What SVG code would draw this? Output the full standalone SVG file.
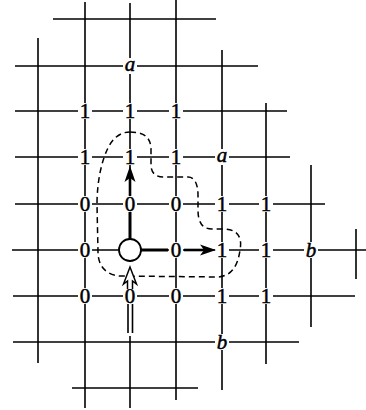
<svg xmlns="http://www.w3.org/2000/svg" width="366" height="410" viewBox="0 0 366 410">
<style>
.g{stroke:#000;stroke-width:1.6;fill:none;stroke-linecap:butt}
.t{font-family:"Liberation Serif","Times New Roman",serif;font-size:21px;fill:#000;text-anchor:middle;stroke:#000;stroke-width:0.5}
.i{font-style:italic;font-size:21px}
.bg{fill:#fff}
.th{stroke:#000;stroke-width:3;fill:none}
.d{stroke:#000;stroke-width:1.5;fill:none;stroke-dasharray:6 4}
</style>
<defs>
<rect id="bx" x="-7" y="-8" width="14" height="16" class="bg"/>
</defs>
<rect width="366" height="410" fill="#fff"/>
<g id="connectors">
<g id="grid" class="g">
<path d="M53 19H216"/>
<path d="M15 66H258"/>
<path d="M15 111H287"/>
<path d="M15 157H290"/>
<path d="M15 204H325"/>
<path d="M12 250H366"/>
<path d="M13 296H355"/>
<path d="M13 342H299"/>
<path d="M72 388H198"/>
<path d="M38 38V363"/>
<path d="M85 2V408"/>
<path d="M130 3V262"/>
<path d="M130 336V408"/>
<path d="M176 0V400"/>
<path d="M222 50V390"/>
<path d="M266 103V364"/>
<path d="M311 165V327"/>
<path d="M356 229V279"/>
<path d="M128 303V333M132.5 303V333"/>
</g>
<path id="region" class="d" d="M130 132C145 132 151 138 151 150L151 165C151 173 156 177 163 177L188 177C195 177 198 185 198 195L198 210C198 222 202 229 212 229L225 229C240 230 242 240 240 250C238 265 232 276 218 277L120 276C105 275 98 265 98 252L97 205C97 180 102 160 108 148C113 138 120 132 130 132Z"/>
</g>
<g id="labels">
<g id="n-a1"><use href="#bx" x="130" y="66"/><text class="t i" x="130" y="71">a</text></g>
<g id="n-1a"><use href="#bx" x="85" y="111"/><text class="t" x="85" y="118">1</text></g>
<g id="n-1b"><use href="#bx" x="130" y="111"/><text class="t" x="130" y="118">1</text></g>
<g id="n-1c"><use href="#bx" x="176" y="111"/><text class="t" x="176" y="118">1</text></g>
<g id="n-1d"><use href="#bx" x="85" y="157"/><text class="t" x="85" y="164">1</text></g>
<g id="n-1e"><use href="#bx" x="130" y="157"/><text class="t" x="130" y="164">1</text></g>
<g id="n-1f"><use href="#bx" x="176" y="157"/><text class="t" x="176" y="164">1</text></g>
<g id="n-a2"><use href="#bx" x="222" y="157"/><text class="t i" x="222" y="162">a</text></g>
<g id="n-0a"><use href="#bx" x="85" y="204"/><text class="t" x="85" y="211">0</text></g>
<g id="n-0b"><use href="#bx" x="130" y="204"/><text class="t" x="130" y="211">0</text></g>
<g id="n-0c"><use href="#bx" x="176" y="204"/><text class="t" x="176" y="211">0</text></g>
<g id="n-1g"><use href="#bx" x="222" y="204"/><text class="t" x="222" y="211">1</text></g>
<g id="n-1h"><use href="#bx" x="266" y="204"/><text class="t" x="266" y="211">1</text></g>
<g id="n-0d"><use href="#bx" x="85" y="250"/><text class="t" x="85" y="257">0</text></g>
<g id="n-0e"><use href="#bx" x="176" y="250"/><text class="t" x="176" y="257">0</text></g>
<g id="n-1i"><use href="#bx" x="222" y="250"/><text class="t" x="222" y="257">1</text></g>
<g id="n-1j"><use href="#bx" x="266" y="250"/><text class="t" x="266" y="257">1</text></g>
<g id="n-b1"><use href="#bx" x="311" y="250"/><text class="t i" x="311" y="257">b</text></g>
<g id="n-0f"><use href="#bx" x="85" y="296"/><text class="t" x="85" y="303">0</text></g>
<g id="n-0g"><use href="#bx" x="130" y="296"/><text class="t" x="130" y="303">0</text></g>
<g id="n-0h"><use href="#bx" x="176" y="296"/><text class="t" x="176" y="303">0</text></g>
<g id="n-1k"><use href="#bx" x="222" y="296"/><text class="t" x="222" y="303">1</text></g>
<g id="n-1l"><use href="#bx" x="266" y="296"/><text class="t" x="266" y="303">1</text></g>
<g id="n-b2"><use href="#bx" x="222" y="342"/><text class="t i" x="222" y="349">b</text></g>
</g>
<g id="arrows">
<path class="th" d="M130 239V212"/>
<path class="th" d="M141 250H168"/>
<g id="arrow-up">
<path d="M130 196V174" stroke="#000" stroke-width="2.6"/>
<path d="M130 166L124.5 182L130 178L135.5 182Z" fill="#000"/>
</g>
<g id="arrow-right">
<path d="M184 250H208" stroke="#000" stroke-width="2.6"/>
<path d="M216 250L200 244.5L204 250L200 255.5Z" fill="#000"/>
</g>
<path id="arrow-hollow" d="M127.5 289V281L123.5 284L130 267L136.5 284L132.5 281V289" fill="#fff" stroke="#000" stroke-width="1.5" stroke-linejoin="miter"/>
</g>
<g id="start"><circle cx="130" cy="250" r="11" fill="#fff" stroke="#000" stroke-width="1.8"/></g>
</svg>
